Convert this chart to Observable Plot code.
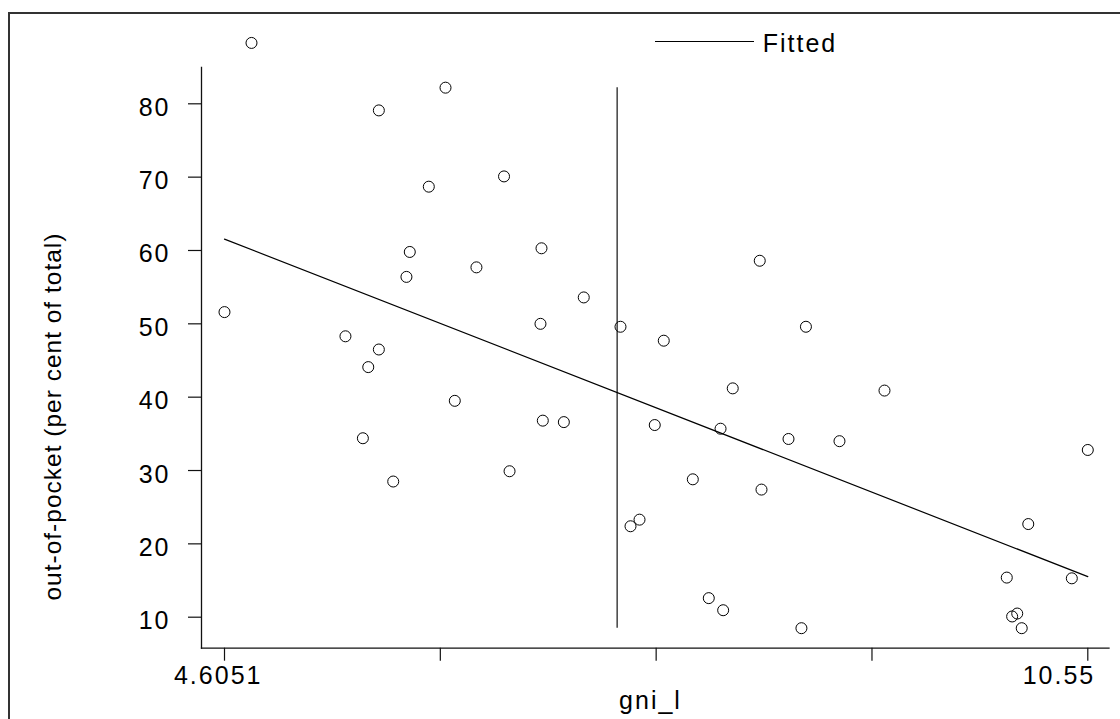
<!DOCTYPE html>
<html>
<head>
<meta charset="utf-8">
<script src="https://cdn.jsdelivr.net/npm/d3@7"></script>
<script src="https://cdn.jsdelivr.net/npm/@observablehq/plot@0.6"></script>
<style>
html,body{margin:0;padding:0;background:#fff;overflow:hidden;width:1120px;height:719px;position:relative}
#frame{position:absolute;left:8px;top:12px;width:1400px;height:1000px;border:2px solid #333;box-sizing:border-box}
#chart{position:absolute;left:0;top:0}
#chart svg text{letter-spacing:2px}
#legendLine{position:absolute;left:655px;top:41px;width:99px;height:0;border-top:1.3px solid #000}
#legendText{position:absolute;left:762.7px;top:30.5px;font-family:"Liberation Sans",Arial,sans-serif;font-size:25px;line-height:25px;letter-spacing:2px;color:#000;white-space:nowrap}
</style>
</head>
<body>
<div id="frame"></div>
<div id="chart"></div>
<div id="legendLine"></div>
<div id="legendText">Fitted</div>
<script>
// gni_l (x) and out-of-pocket share (y)
const gni = [4.791, 6.127, 5.668, 6.012, 6.530, 5.881, 6.340, 5.858, 4.605, 5.438,
             6.788, 7.079, 6.781, 7.332, 7.630, 8.291, 8.609, 5.668, 5.595, 6.191,
             5.558, 5.767, 6.568, 8.105, 6.797, 6.942, 7.568, 8.021, 8.489, 7.830,
             8.303, 7.463, 7.401, 7.940, 8.039, 8.578, 9.150, 8.840, 10.550, 10.140,
             9.992, 10.440, 10.064, 10.029, 10.095];
const oop = [88.3, 82.2, 79.1, 68.7, 70.1, 59.8, 57.7, 56.4, 51.6, 48.3,
             60.3, 53.6, 50.0, 49.6, 47.7, 58.6, 49.6, 46.5, 44.1, 39.5,
             34.4, 28.5, 29.9, 41.2, 36.8, 36.6, 36.2, 35.7, 34.3, 28.8,
             27.4, 23.3, 22.4, 12.6, 10.95, 8.5, 40.9, 34.0, 32.8, 22.7,
             15.4, 15.3, 10.5, 10.1, 8.5];

// fitted line end points
const fitX = [4.6051, 10.55];
const fitY = [61.55, 15.54];

// vertical reference line
const vlineX = [7.309];
const vlineY1 = [8.5];
const vlineY2 = [82.2];

// axes
const xDomain = [4.4467, 10.696];
const yDomain = [5.773, 84.95];
const xTicks = [4.6051, 6.0913, 7.5776, 9.0638, 10.55];
const xLabelValues = [4.6051, 10.55];
const xLabelTexts = ["4.6051", "10.55"];
const yTicks = [10, 20, 30, 40, 50, 60, 70, 80];
const xTitle = "gni_l";
const yTitle = "out-of-pocket (per cent of total)";
const legendLabel = "Fitted";

const data = gni.map((g, i) => ({gni_l: g, oop: oop[i]}));
const fit = fitX.map((x, i) => ({x, y: fitY[i]}));
const vline = vlineX.map((x, i) => ({x, y1: vlineY1[i], y2: vlineY2[i]}));

const font = '"Liberation Sans", Arial, sans-serif';

const plot = Plot.plot({
  width: 1120,
  height: 719,
  marginLeft: 201,
  marginRight: 11.5,
  marginTop: 67,
  marginBottom: 71.3,
  x: {domain: xDomain, label: null},
  y: {domain: yDomain, label: null},
  style: {fontFamily: font, fontSize: "25px", color: "#000", background: "transparent", overflow: "visible"},
  marks: [
    Plot.frame({anchor: "left", stroke: "#111", strokeWidth: 1.3}),
    Plot.frame({anchor: "bottom", stroke: "#111", strokeWidth: 1.3}),
    Plot.axisY({ticks: yTicks, tickSize: 13, fill: "none", stroke: "#111", strokeWidth: 1.2, label: null}),
    Plot.axisY({ticks: yTicks, tickSize: 0, tickPadding: 31, dy: 4, stroke: "none", fill: "#000", fontSize: 25, label: null}),
    Plot.axisX({ticks: xTicks, tickSize: 13, fill: "none", stroke: "#111", strokeWidth: 1.2, label: null}),
    Plot.text([0], {x: () => xLabelValues[0], text: () => xLabelTexts[0], frameAnchor: "bottom",
      lineAnchor: "bottom", textAnchor: "middle", dy: 35.6, dx: -6.3, fontSize: 25, fill: "#000"}),
    Plot.text([1], {x: () => xLabelValues[1], text: () => xLabelTexts[1], frameAnchor: "bottom",
      lineAnchor: "bottom", textAnchor: "end", dy: 35.6, dx: 7.4, fontSize: 25, fill: "#000"}),
    Plot.text([xTitle], {text: d => d, frameAnchor: "bottom", lineAnchor: "bottom", textAnchor: "middle",
      dy: 60.3, dx: -4.75, fontSize: 25, fill: "#000"}),
    Plot.text([yTitle], {text: d => d, frameAnchor: "left", lineAnchor: "middle", textAnchor: "middle",
      rotate: -90, dx: -148.8, dy: 58.7, fontSize: 24.5, fill: "#000"}),
    Plot.ruleX(vline, {x: "x", y1: "y1", y2: "y2", stroke: "#333", strokeWidth: 1.4}),
    Plot.line(fit, {x: "x", y: "y", stroke: "#000", strokeWidth: 1.2}),
    Plot.dot(data, {x: "gni_l", y: "oop", r: 5.5, stroke: "#000", strokeWidth: 1, fill: "none"})
  ]
});

document.getElementById("chart").appendChild(plot);
document.getElementById("legendText").textContent = legendLabel;
// the vertical axis title uses a tighter spacing
d3.select(plot).selectAll("text").filter(function () { return this.textContent === yTitle; })
  .style("letter-spacing", "1px");
</script>
</body>
</html>
